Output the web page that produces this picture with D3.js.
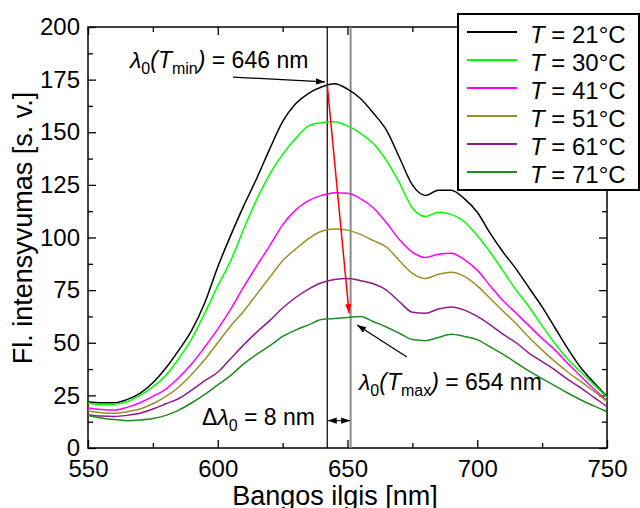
<!DOCTYPE html>
<html>
<head>
<meta charset="utf-8">
<script src="https://cdn.jsdelivr.net/npm/d3@7"></script>
<style>
  body { margin: 0; background: #fff; }
  svg { display: block; font-family: "Liberation Sans", Arial, sans-serif; }
</style>
</head>
<body>
<svg id="chart" width="640" height="508"></svg>
<script>
// ---- data ----
const wavelengths = [550,555,560,565,570,575,580,585,590,595,600,605,610,615,620,625,630,635,640,645,650,655,660,665,670,675,680,685,690,695,700,705,710,715,720,725,730,735,740,745,750];
const seriesLabels = ["21", "30", "41", "51", "61", "71"];
const t21 = [22,21.5,21.5,23,26,31,38,46.5,56,69,86,101,115,128,142,155,163.5,168.5,171.5,173,170.5,166,159,151,138,125,120,122.5,122.5,118.5,112,102,93,85,76,67,57,47,38,31,24.5];
const t30 = [21.5,20.5,20.8,22,25,29,34.5,42.5,52,64,77,89,104,118,130,139.5,147,153,154.5,155,153,149.5,144.5,136.5,126,114,110,112,111,107.5,101,93,84,75,67,58,49.5,42,36,30,24];
const t41 = [19,18.3,18,19.3,21.5,24.5,28,33.5,40,48,56.5,66,76.5,86.5,96,106,113,117.5,120,121.3,121,118.5,114,107,99,93,90.5,92,92.5,89.5,84.5,77,70,64,58,52,46.5,40,34,28,22.5];
const t51 = [17.7,16.8,16.5,17.2,18.5,21,24.5,29,35,42,50,58,65,73,81,89,94.5,99.5,103,104,103.5,101.5,98.5,95.5,89,83,80.5,82.5,83.5,81.5,77,71,65,59,52.5,46.5,41,36,31.5,27,22];
const t61 = [15.7,15.2,15,15.5,16.5,18.5,21,23.5,27.5,32,36,42.5,49,55,60.5,66.5,71.5,75.5,78.5,80,80.5,79.5,78,75,69.5,64.5,64,66,67,65.5,62.5,58.5,54,50,45,41,37,32.5,28.5,24,19.6];
const t71 = [15.4,14.3,13.5,13,13.3,14,15.5,18,21.5,25.5,30,34.5,40,44.5,48.5,53,56,58.5,61,61.5,62,62.5,60,57.5,54.5,51.5,51,52.5,54,53,51.5,48,44.5,40.5,36.5,33,29.5,26,22.8,20,17.2];
const seriesValues = [t21, t30, t41, t51, t61, t71];
const colors = ["#000000", "#00ff00", "#ff00ff", "#9a8f2a", "#8e1a8e", "#1e8c1e"];
const xTicks = [550, 600, 650, 700, 750];
const xMinor = [575, 625, 675, 725];
const yTicks = [0, 25, 50, 75, 100, 125, 150, 175, 200];
const yMinor = [12.5, 37.5, 62.5, 87.5, 112.5, 137.5, 162.5, 187.5];
// annotation positions (data coordinates)
const lambdaMin = 642.2, lambdaMax = 651.2;
const redArrow = [[642.2, 172.4], [650.6, 64.1]];
const arrowTop = [[605.9, 176.2], [641.3, 173.9]];
const arrowBottom = [[672.9, 43.2], [653.7, 58.4]];
const deltaArrow = [[642.4, 13], [651.0, 13]];

// ---- drawing ----
const svg = d3.select("#chart");
const x = d3.scaleLinear().domain([550, 750]).range([88, 607]);
const y = d3.scaleLinear().domain([0, 200]).range([448, 27]);

const defs = svg.append("defs");
function marker(id, color, orient) {
  defs.append("marker").attr("id", id)
    .attr("viewBox", "0 0 10 10").attr("refX", 10).attr("refY", 5)
    .attr("markerWidth", 9).attr("markerHeight", 9)
    .attr("markerUnits", "userSpaceOnUse")
    .attr("orient", orient)
    .append("path").attr("d", "M0,1.5 L10,5 L0,8.5 Z").attr("fill", color);
}
marker("ahBlack", "#000", "auto");
marker("ahBlackStart", "#000", "auto-start-reverse");
marker("ahRed", "#ff0000", "auto");

// axes (inward ticks)
const fs = 24;
function styleAxis(g) {
  g.select(".domain").remove();
  g.selectAll("line").attr("stroke", "#000").attr("stroke-width", 1.3);
  g.selectAll("text").attr("font-size", fs).attr("fill", "#000").attr("font-family", "Liberation Sans, Arial, sans-serif");
}
svg.append("g").attr("transform", "translate(0,448)")
  .call(d3.axisBottom(x).tickValues(xTicks).tickSize(-8).tickPadding(12).tickFormat(d3.format("d")))
  .call(styleAxis);
svg.append("g").attr("transform", "translate(0,448)")
  .call(d3.axisBottom(x).tickValues(xMinor).tickSize(-5).tickFormat(""))
  .call(styleAxis);
svg.append("g").attr("transform", "translate(0,27)")
  .call(d3.axisTop(x).tickValues(xTicks).tickSize(-8).tickFormat(""))
  .call(styleAxis);
svg.append("g").attr("transform", "translate(0,27)")
  .call(d3.axisTop(x).tickValues(xMinor).tickSize(-5).tickFormat(""))
  .call(styleAxis);
svg.append("g").attr("transform", "translate(88,0)")
  .call(d3.axisLeft(y).tickValues(yTicks).tickSize(-8).tickPadding(8).tickFormat(d3.format("d")))
  .call(styleAxis);
svg.append("g").attr("transform", "translate(88,0)")
  .call(d3.axisLeft(y).tickValues(yMinor).tickSize(-5).tickFormat(""))
  .call(styleAxis);
svg.append("g").attr("transform", "translate(607,0)")
  .call(d3.axisRight(y).tickValues(yTicks).tickSize(-8).tickFormat(""))
  .call(styleAxis);
svg.append("g").attr("transform", "translate(607,0)")
  .call(d3.axisRight(y).tickValues(yMinor).tickSize(-5).tickFormat(""))
  .call(styleAxis);

// frame
svg.append("rect").attr("x", x(550)).attr("y", y(200))
  .attr("width", x(750) - x(550)).attr("height", y(0) - y(200))
  .attr("fill", "none").attr("stroke", "#000").attr("stroke-width", 1.5);

// vertical reference lines
svg.append("line").attr("x1", x(lambdaMin)).attr("x2", x(lambdaMin))
  .attr("y1", y(200)).attr("y2", y(0)).attr("stroke", "#000").attr("stroke-width", 1.2);
svg.append("line").attr("x1", x(lambdaMax)).attr("x2", x(lambdaMax))
  .attr("y1", y(200)).attr("y2", y(0)).attr("stroke", "#8a8a8a").attr("stroke-width", 2);

// curves
const line = d3.line().x((d, i) => x(wavelengths[i])).y(d => y(d)).curve(d3.curveMonotoneX);
seriesValues.forEach((vals, k) => {
  svg.append("path").datum(vals).attr("d", line)
    .attr("fill", "none").attr("stroke", colors[k]).attr("stroke-width", 1.5)
    .attr("stroke-linejoin", "round");
});

// arrows
function arrow(pts, color, mEnd, mStart, w) {
  const l = svg.append("line")
    .attr("x1", x(pts[0][0])).attr("y1", y(pts[0][1]))
    .attr("x2", x(pts[1][0])).attr("y2", y(pts[1][1]))
    .attr("stroke", color).attr("stroke-width", w || 1.2)
    .attr("marker-end", "url(#" + mEnd + ")");
  if (mStart) l.attr("marker-start", "url(#" + mStart + ")");
}
arrow(redArrow, "#ff0000", "ahRed", null, 1.5);
arrow(arrowTop, "#000", "ahBlack");
arrow(arrowBottom, "#000", "ahBlack");
arrow(deltaArrow, "#000", "ahBlack", "ahBlackStart", 1);

// annotation texts
const afs = 23;
function lambdaText(px, py, sub) {
  const t = svg.append("text").attr("x", px).attr("y", py).attr("font-size", afs).attr("fill", "#000");
  t.append("tspan").attr("font-style", "italic").text("λ");
  t.append("tspan").attr("font-size", 16).attr("dy", 6).text("0");
  t.append("tspan").attr("dy", -6).attr("font-style", "italic").text("(T");
  t.append("tspan").attr("font-size", 16).attr("dy", 6).text(sub[0]);
  t.append("tspan").attr("dy", -6).attr("font-style", "italic").text(")");
  t.append("tspan").text(sub[1]);
}
lambdaText(130, 68, ["min", " = 646 nm"]);
lambdaText(359, 390, ["max", " = 654 nm"]);
(function () {
  const t = svg.append("text").attr("x", 202).attr("y", 425).attr("font-size", afs).attr("fill", "#000");
  t.append("tspan").text("Δ");
  t.append("tspan").attr("font-style", "italic").text("λ");
  t.append("tspan").attr("font-size", 16).attr("dy", 6).text("0");
  t.append("tspan").attr("dy", -6).text(" = 8 nm");
})();

// axis titles
svg.append("text").attr("x", 335).attr("y", 505).attr("text-anchor", "middle")
  .attr("font-size", 27).attr("fill", "#000").text("Bangos ilgis [nm]");
svg.append("text").attr("transform", "translate(32,228) rotate(-90)").attr("text-anchor", "middle")
  .attr("font-size", 27).attr("fill", "#000").text("Fl. intensyvumas [s. v.]");

// legend
const lg = svg.append("g");
lg.append("rect").attr("x", 458).attr("y", 14).attr("width", 181).attr("height", 176)
  .attr("fill", "#fff").attr("stroke", "#000").attr("stroke-width", 2);
seriesLabels.forEach((lab, k) => {
  const cy = 32 + k * 28;
  lg.append("line").attr("x1", 467).attr("x2", 517).attr("y1", cy).attr("y2", cy)
    .attr("stroke", colors[k]).attr("stroke-width", 2);
  const t = lg.append("text").attr("x", 530).attr("y", cy + 11).attr("font-size", fs).attr("fill", "#000");
  t.append("tspan").attr("font-style", "italic").text("T");
  t.append("tspan").text(" = " + lab + "°C");
});
</script>
</body>
</html>
